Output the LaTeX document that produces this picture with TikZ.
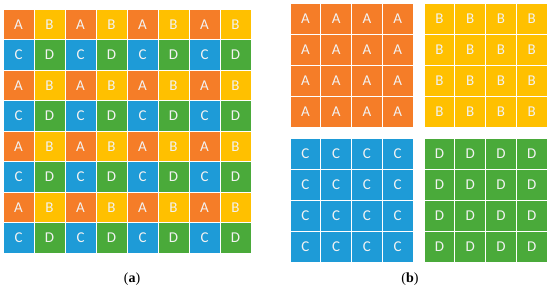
\documentclass[tikz,border=0pt]{standalone}
\usepackage{fontspec}
\setmainfont{Liberation Serif}
\newfontfamily\cellfont{Carlito}
\usetikzlibrary{positioning}
\definecolor{cA}{RGB}{245,125,40}
\definecolor{cB}{RGB}{255,192,0}
\definecolor{cC}{RGB}{30,155,215}
\definecolor{cD}{RGB}{74,170,58}
\tikzset{
  cell/.style={draw=white, fill=#1, line width=1pt, text=white!95!black, inner sep=0pt,
               font=\cellfont\fontsize{15}{15}\selectfont, minimum width=31pt, minimum height=30.5pt},
  sublabel/.style={font=\fontsize{14}{14}\selectfont, inner sep=0pt},
}
\begin{document}
\begin{tikzpicture}[x=1pt, y=-1pt]
\useasboundingbox (0,0) rectangle (550,289);

% (a): interleaved 8 x 8 grid
\def\lx{3}\def\ly{9}\def\cw{31}\def\ch{30.5}
\foreach \r in {0,...,7} \foreach \c in {0,...,7} {
  \pgfmathtruncatemacro{\k}{2*mod(\r,2)+mod(\c,2)}
  \ifcase\k \def\lab{A}\def\col{cA}\or \def\lab{B}\def\col{cB}\or \def\lab{C}\def\col{cC}\or \def\lab{D}\def\col{cD}\fi
  \node[cell=\col] (g-\r-\c) at (\lx+\c*\cw+0.5*\cw, \ly+\r*\ch+0.5*\ch) {\lab};
}
\node[sublabel] (la) at (132,279) {(\textbf{a})};

% (b): four separate 4 x 4 blocks
\def\bw{30.75}\def\bh{31}
\foreach \lab/\col/\bx/\by in {A/cA/290/3, B/cB/424/3, C/cC/290/138, D/cD/424/138}
  \foreach \r in {0,...,3} \foreach \c in {0,...,3}
    \node[cell=\col, minimum width=\bw pt, minimum height=\bh pt] (\lab-\r-\c)
      at (\bx+\c*\bw+0.5*\bw, \by+\r*\bh+0.5*\bh) {\lab};
\node[sublabel] (lb) at (410,279) {(\textbf{b})};
\end{tikzpicture}
\end{document}
